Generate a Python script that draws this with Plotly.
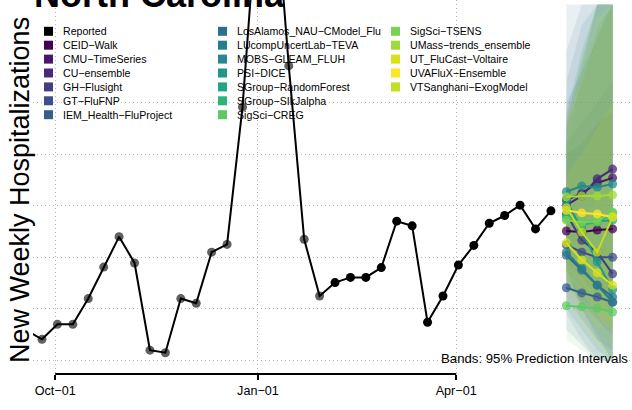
import plotly.graph_objects as go
import pandas as pd

# reported weekly hospitalizations (first point sits just left of the visible range)
reported_dates = pd.date_range("2022-09-18", periods=35, freq="7D")
reported = [58, 41, 70, 70, 120, 181, 240, 189, 20, 15, 120, 111, 210, 225,
            491, 894, 952, 571, 235, 125, 151, 161, 161, 180, 270, 261, 74,
            125, 185, 223, 266, 281, 301, 255, 290]
n_older = 20  # older reports are drawn in grey

forecast_dates = pd.date_range("2023-05-21", periods=4, freq="7D")

models = ["CEID−Walk", "CMU−TimeSeries", "CU−ensemble", "GH−Flusight",
          "GT−FluFNP", "IEM_Health−FluProject", "LosAlamos_NAU−CModel_Flu",
          "LUcompUncertLab−TEVA", "MOBS−GLEAM_FLUH", "PSI−DICE",
          "SGroup−RandomForest", "SGroup−SIkJalpha", "SigSci−CREG",
          "SigSci−TSENS", "UMass−trends_ensemble", "UT_FluCast−Voltaire",
          "UVAFluX−Ensemble", "VTSanghani−ExogModel"]
colors = ["#440154", "#481769", "#472A7A", "#433D84", "#3D4E8A", "#355E8D",
          "#2E6D8E", "#297B8E", "#23898E", "#1F978B", "#21A585", "#2EB37C",
          "#5EC962", "#7AD151", "#A0DA39", "#D8E219", "#FDE725", "#C2DF23"]

median = [
    [251, 249, 253, 255], [311, 324, 344, 354], [301, 319, 352, 371],
    [284, 233, 210, 168], [224, 210, 200, 200], [141, 131, 123, 113],
    [204, 175, 146, 123], [210, 179, 146, 113], [327, 338, 336, 342],
    [311, 253, 191, 137], [282, 268, 270, 272], [276, 263, 268, 286],
    [106, 104, 101, 94], [272, 268, 270, 288], [317, 319, 319, 321],
    [228, 195, 170, 146], [291, 286, 284, 278], [296, 249, 210, 278],
]
lower = [
    [150, 110, 80, 50], [190, 160, 130, 100], [170, 140, 110, 90],
    [180, 100, 50, 0], [120, 80, 40, 20], [60, 30, 0, 0],
    [100, 60, 20, 0], [90, 40, 0, 0], [200, 170, 140, 110],
    [180, 100, 40, 0], [160, 120, 90, 60], [150, 120, 100, 90],
    [40, 20, 0, 0], [140, 100, 60, 30], [200, 150, 100, 60],
    [120, 70, 30, 0], [170, 130, 90, 50], [160, 110, 60, 80],
]
upper = [
    [420, 460, 500, 540], [450, 540, 630, 690], [470, 580, 690, 690],
    [400, 420, 460, 480], [500, 560, 620, 690], [690, 690, 690, 690],
    [600, 690, 690, 690], [540, 650, 690, 690], [480, 600, 690, 690],
    [460, 560, 650, 690], [430, 560, 690, 690], [410, 520, 640, 690],
    [200, 260, 320, 380], [450, 600, 690, 690], [460, 580, 690, 690],
    [360, 400, 450, 500], [440, 560, 660, 690], [480, 540, 620, 690],
]

tick_dates = ["2022-10-01", "2023-01-01", "2023-04-01"]
tick_text = ["Oct−01", "Jan−01", "Apr−01"]

W, H = 632, 410
ML, MR, MT, MB = 33, 0, 0, 36
PW, PH = W - ML - MR, H - MT - MB


def px(x):
    return (x - ML) / PW


def py(y):
    return 1 - (y - MT) / PH


def rgba(hex_col, a):
    h = hex_col.lstrip("#")
    return "rgba(%d,%d,%d,%s)" % (int(h[0:2], 16), int(h[2:4], 16), int(h[4:6], 16), a)


fig = go.Figure()

# prediction bands
for i, m in enumerate(models):
    fig.add_trace(go.Scatter(
        x=list(forecast_dates) + list(forecast_dates[::-1]),
        y=upper[i] + lower[i][::-1],
        fill="toself", fillcolor=rgba(colors[i], 0.1),
        line=dict(width=0), mode="lines", hoverinfo="skip", showlegend=False))

# reported
pt_cols = ["#606060"] * n_older + ["black"] * (len(reported) - n_older)
fig.add_trace(go.Scatter(x=reported_dates, y=reported, mode="markers",
                         marker=dict(size=9, color=pt_cols), showlegend=False))
fig.add_trace(go.Scatter(x=reported_dates, y=reported, mode="lines",
                         line=dict(color="black", width=2), showlegend=False))

# forecasts
for i, m in enumerate(models):
    fig.add_trace(go.Scatter(
        x=forecast_dates, y=median[i], mode="lines+markers", name=m,
        line=dict(color=colors[i], width=2),
        marker=dict(size=9, color=rgba(colors[i], 0.75)), showlegend=False))

# legend drawn by hand in three columns like the R legend
legend_cols = [["Reported"] + models[:6], models[6:13], models[13:]]
col_colors = [["black"] + colors[:6], colors[6:13], colors[13:]]
col_x = [44, 218, 391]
row_y0, row_dy = 31.3, 13.9
shapes = []
annotations = []
for c, names in enumerate(legend_cols):
    for r, name in enumerate(names):
        yc = row_y0 + r * row_dy
        shapes.append(dict(type="rect", xref="paper", yref="paper",
                           x0=px(col_x[c]), x1=px(col_x[c] + 9),
                           y0=py(yc + 4.5), y1=py(yc - 4.5),
                           fillcolor=col_colors[c][r], line=dict(width=0)))
        annotations.append(dict(text=name, xref="paper", yref="paper",
                                x=px(col_x[c] + 17), y=py(yc),
                                xanchor="left", yanchor="middle", showarrow=False,
                                font=dict(size=10.6, color="black")))

# partial axis line (R style, from first to last tick)
shapes.append(dict(type="line", xref="x", yref="paper", x0=tick_dates[0],
                   x1=tick_dates[-1], y0=0, y1=0, line=dict(color="black", width=2)))

annotations.append(dict(text="<b>North Carolina</b>", xref="paper", yref="paper",
                        x=px(32), y=py(17.5), xanchor="left", yanchor="bottom",
                        showarrow=False, font=dict(size=36, color="black")))
annotations.append(dict(text="New Weekly Hospitalizations", xref="paper", yref="paper",
                        x=px(20), y=py(190), xanchor="center", yanchor="middle",
                        textangle=-90, showarrow=False,
                        font=dict(size=27, color="black")))
annotations.append(dict(text="Bands: 95% Prediction Intervals", xref="paper",
                        yref="paper", x=px(630), y=py(358), xanchor="right",
                        yanchor="middle", showarrow=False,
                        font=dict(size=13.2, color="black")))

grid = dict(showgrid=True, gridcolor="#b4b4b4", gridwidth=1, griddash="1px,3px")

fig.update_layout(
    width=W, height=H, margin=dict(l=ML, r=MR, t=MT, b=MB),
    paper_bgcolor="white", plot_bgcolor="white",
    font=dict(family="Liberation Sans, Arial, sans-serif", color="black"),
    shapes=shapes, annotations=annotations, showlegend=False,
    xaxis=dict(type="date", range=["2022-09-20 22:00", "2023-06-19 19:00"],
               tickvals=tick_dates, ticktext=tick_text, ticks="outside",
               ticklen=5, tickwidth=1.5, tickcolor="black",
               tickfont=dict(size=12.6), showline=False, zeroline=False, **grid),
    yaxis=dict(range=[-26.2, 698.7], tickvals=[0, 100, 200, 300, 400, 500],
               showticklabels=False, ticks="", showline=False, zeroline=False, **grid),
)

# the page body has a default 8px margin; drop it so the figure fills the window
fig.write_html("out.html", config={"displayModeBar": False},
               post_script="document.body.style.margin='0';")
